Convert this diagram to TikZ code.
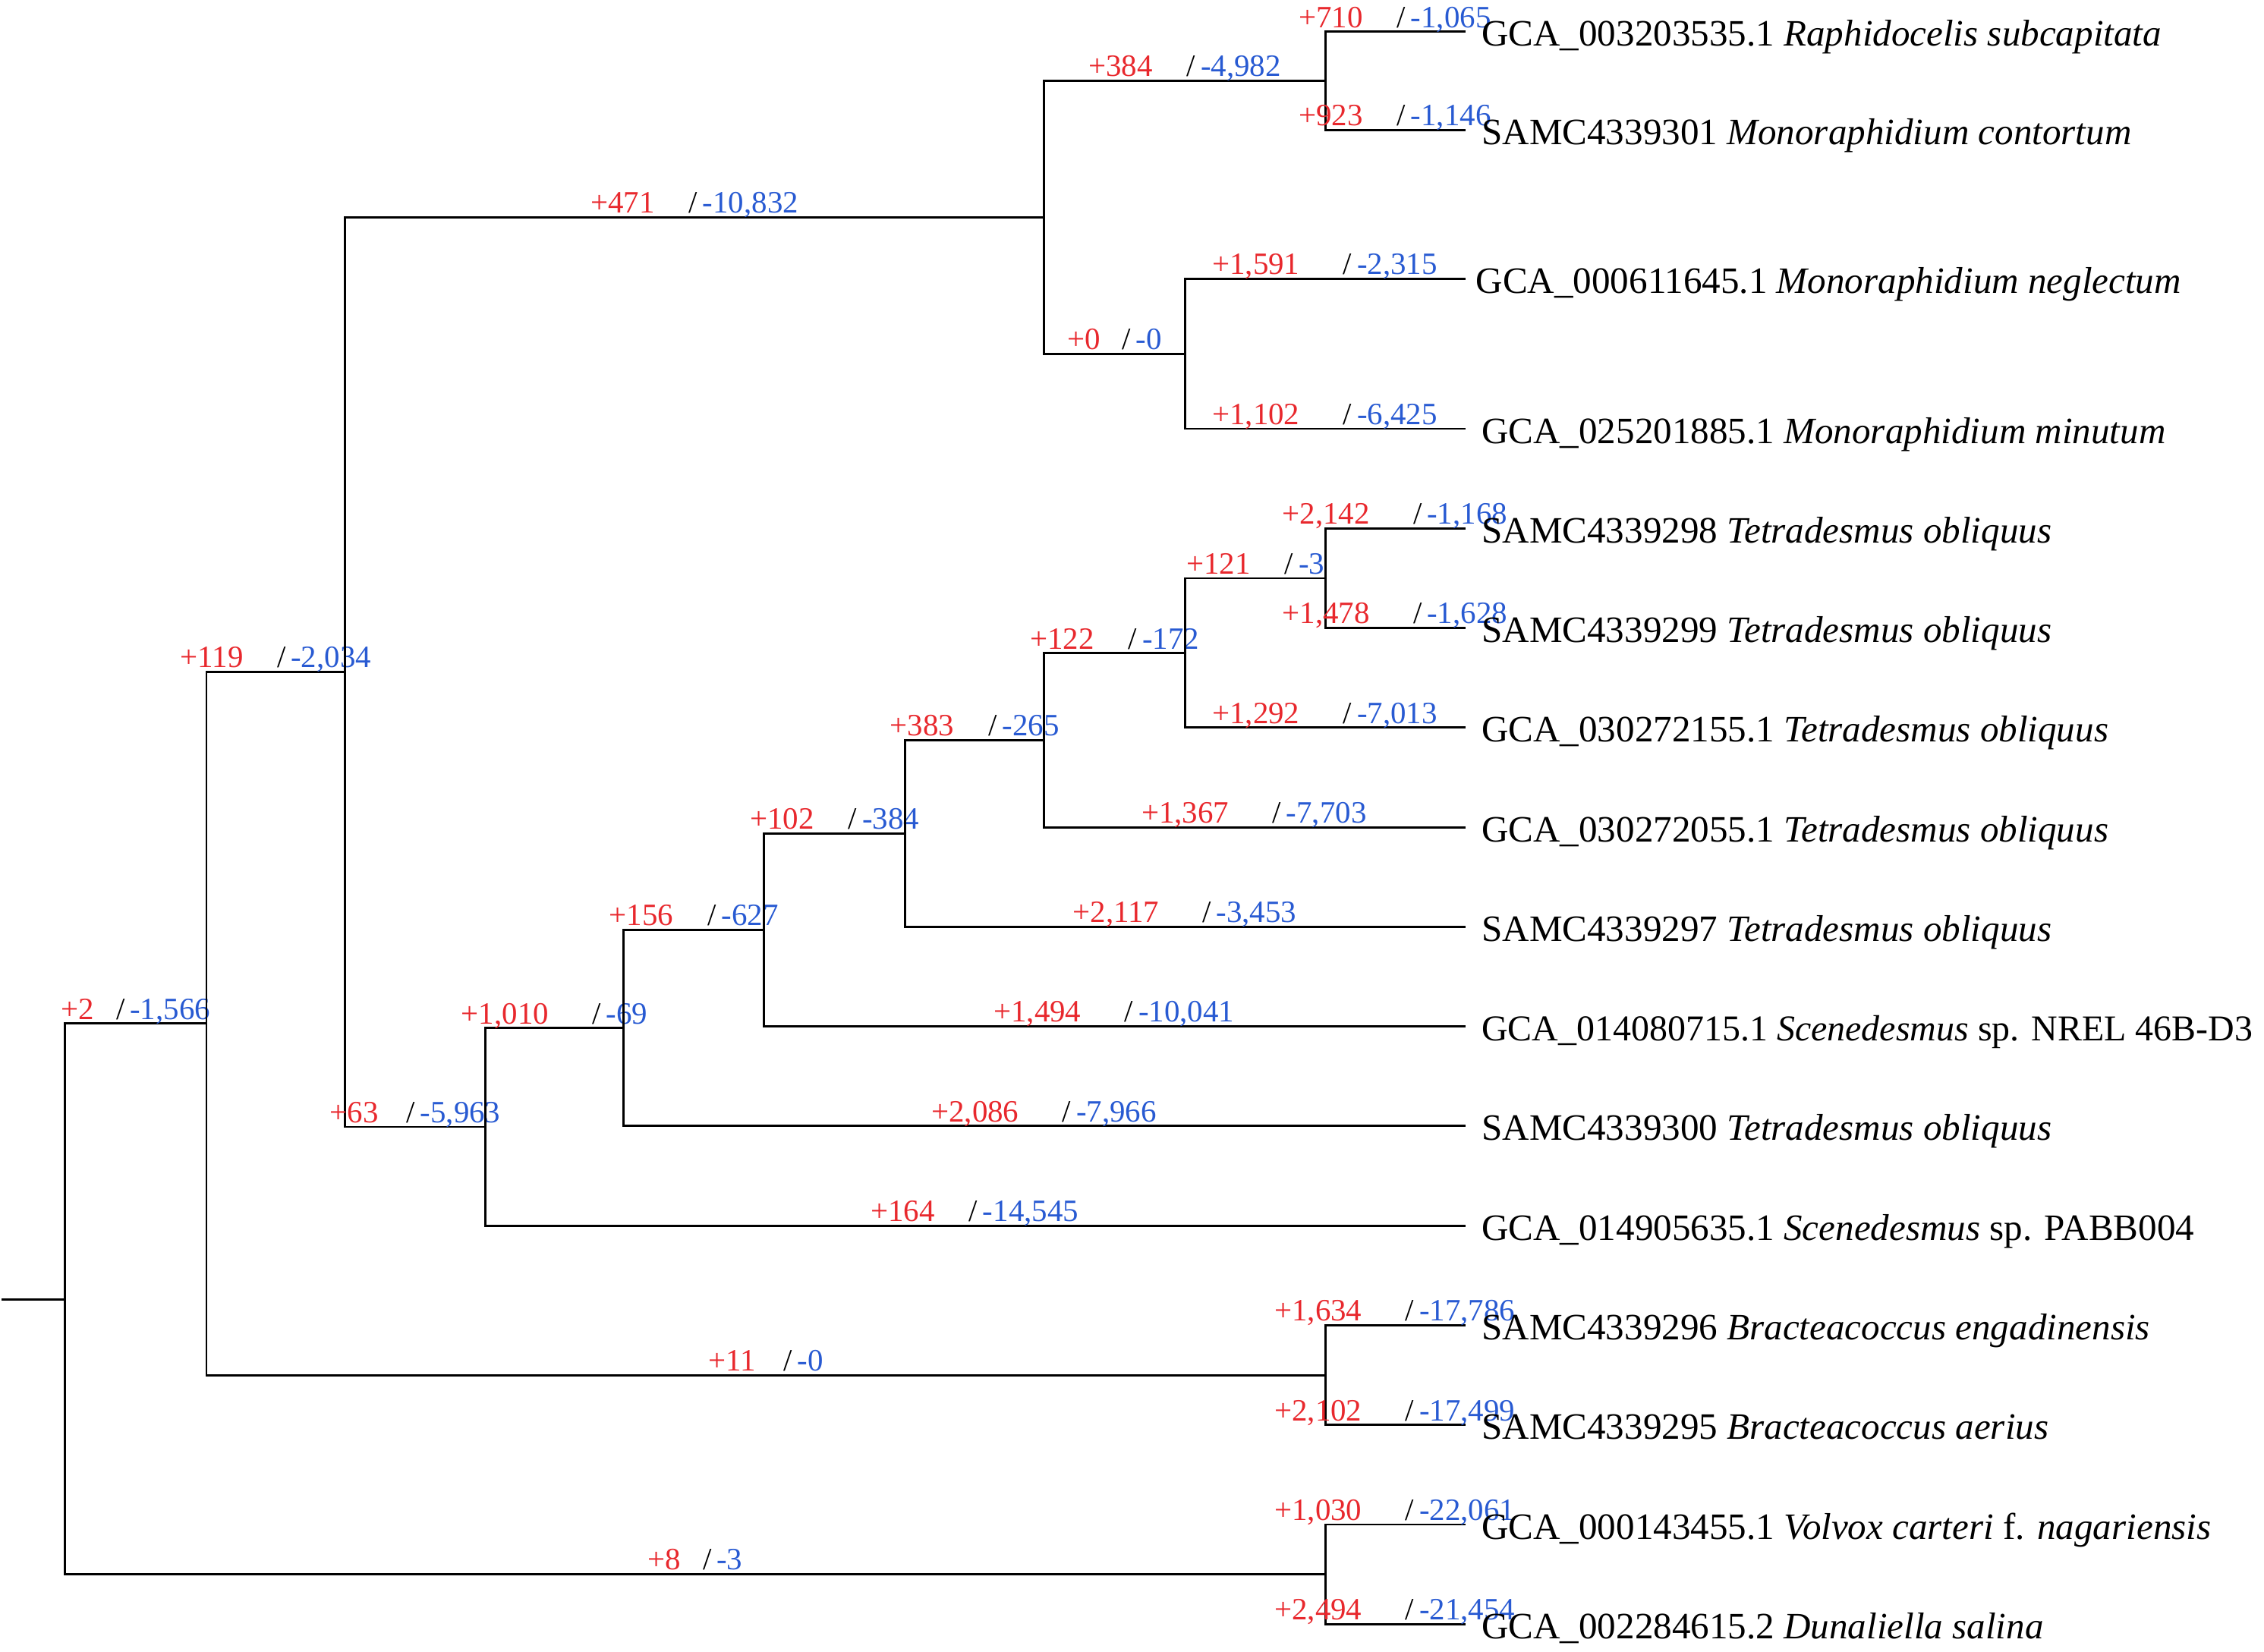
\documentclass[tikz,border=0pt]{standalone}
\usepackage{fontspec}
\setmainfont{Liberation Serif}
\usepackage{tikz}

\definecolor{gainred}{RGB}{232,40,45}
\definecolor{lossblue}{RGB}{40,90,210}

\newlength{\gainw}
\newcommand{\gl}[2]{\settowidth{\gainw}{#1}{\color{gainred}#1}\hspace{\dimexpr 4\gainw/10+6pt\relax}/\,{\color{lossblue}#2}}

\tikzset{
  branch/.style={line width=1.5pt, line cap=rect},
  glabel/.style={anchor=base, inner sep=0pt, yshift=3pt, font=\fontsize{21.5}{24}\selectfont},
  leafname/.style={anchor=base west, inner sep=0pt, xshift=12pt, yshift=-10pt, font=\fontsize{25.8}{30}\selectfont},
}

\begin{document}
\begin{tikzpicture}[x=1pt,y=-1pt]
    \useasboundingbox (0,0) rectangle (1568,1144);

    % internal nodes
    \coordinate (rs) at (2,900);
    \coordinate (root) at (45,900);
    \coordinate (c1) at (143,709);
    \coordinate (c2) at (239,465.5);
    \coordinate (mono) at (723,150.5);
    \coordinate (rm) at (918,56);
    \coordinate (mn) at (821,245);
    \coordinate (c3) at (336,780.6);
    \coordinate (c4) at (432,712.1);
    \coordinate (c5) at (529,644.2);
    \coordinate (c6) at (627,577.4);
    \coordinate (c7) at (723,512.8);
    \coordinate (c8) at (821,452.5);
    \coordinate (c9) at (918,400.5);
    \coordinate (brac) at (918,952.5);
    \coordinate (volv) at (918,1090.5);

    % leaves
    \coordinate (l1) at (1014,22);
    \coordinate (l2) at (1014,90);
    \coordinate (l3) at (1014,193);
    \coordinate (l4) at (1014,297);
    \coordinate (l5) at (1014,366);
    \coordinate (l6) at (1014,435);
    \coordinate (l7) at (1014,504);
    \coordinate (l8) at (1014,573);
    \coordinate (l9) at (1014,642);
    \coordinate (l10) at (1014,711);
    \coordinate (l11) at (1014,780);
    \coordinate (l12) at (1014,849);
    \coordinate (l13) at (1014,918);
    \coordinate (l14) at (1014,987);
    \coordinate (l15) at (1014,1056);
    \coordinate (l16) at (1014,1125);

    % branches
    \draw[branch] (rs) -- (root);
    \draw[branch] (root) |- (c1) node[glabel, pos=0.75] (g1) {\gl{+2}{-1,566}};
    \draw[branch] (root) |- (volv) node[glabel, pos=0.75] (g2) {\gl{+8}{-3}};
    \draw[branch] (c1) |- (c2) node[glabel, pos=0.75] (g3) {\gl{+119}{-2,034}};
    \draw[branch] (c1) |- (brac) node[glabel, pos=0.75] (g4) {\gl{+11}{-0}};
    \draw[branch] (c2) |- (mono) node[glabel, pos=0.75] (g5) {\gl{+471}{-10,832}};
    \draw[branch] (c2) |- (c3) node[glabel, pos=0.75] (g6) {\gl{+63}{-5,963}};
    \draw[branch] (mono) |- (rm) node[glabel, pos=0.75] (g7) {\gl{+384}{-4,982}};
    \draw[branch] (mono) |- (mn) node[glabel, pos=0.75] (g8) {\gl{+0}{-0}};
    \draw[branch] (rm) |- (l1) node[glabel, pos=0.75] (g9) {\gl{+710}{-1,065}};
    \draw[branch] (rm) |- (l2) node[glabel, pos=0.75] (g10) {\gl{+923}{-1,146}};
    \draw[branch] (mn) |- (l3) node[glabel, pos=0.75] (g11) {\gl{+1,591}{-2,315}};
    \draw[branch] (mn) |- (l4) node[glabel, pos=0.75] (g12) {\gl{+1,102}{-6,425}};
    \draw[branch] (c3) |- (c4) node[glabel, pos=0.75] (g13) {\gl{+1,010}{-69}};
    \draw[branch] (c3) |- (l12) node[glabel, pos=0.75] (g14) {\gl{+164}{-14,545}};
    \draw[branch] (c4) |- (c5) node[glabel, pos=0.75] (g15) {\gl{+156}{-627}};
    \draw[branch] (c4) |- (l11) node[glabel, pos=0.75] (g16) {\gl{+2,086}{-7,966}};
    \draw[branch] (c5) |- (c6) node[glabel, pos=0.75] (g17) {\gl{+102}{-384}};
    \draw[branch] (c5) |- (l10) node[glabel, pos=0.75] (g18) {\gl{+1,494}{-10,041}};
    \draw[branch] (c6) |- (c7) node[glabel, pos=0.75] (g19) {\gl{+383}{-265}};
    \draw[branch] (c6) |- (l9) node[glabel, pos=0.75] (g20) {\gl{+2,117}{-3,453}};
    \draw[branch] (c7) |- (c8) node[glabel, pos=0.75] (g21) {\gl{+122}{-172}};
    \draw[branch] (c7) |- (l8) node[glabel, pos=0.75] (g22) {\gl{+1,367}{-7,703}};
    \draw[branch] (c8) |- (c9) node[glabel, pos=0.75] (g23) {\gl{+121}{-3}};
    \draw[branch] (c8) |- (l7) node[glabel, pos=0.75] (g24) {\gl{+1,292}{-7,013}};
    \draw[branch] (c9) |- (l5) node[glabel, pos=0.75] (g25) {\gl{+2,142}{-1,168}};
    \draw[branch] (c9) |- (l6) node[glabel, pos=0.75] (g26) {\gl{+1,478}{-1,628}};
    \draw[branch] (brac) |- (l13) node[glabel, pos=0.75] (g27) {\gl{+1,634}{-17,786}};
    \draw[branch] (brac) |- (l14) node[glabel, pos=0.75] (g28) {\gl{+2,102}{-17,499}};
    \draw[branch] (volv) |- (l15) node[glabel, pos=0.75] (g29) {\gl{+1,030}{-22,061}};
    \draw[branch] (volv) |- (l16) node[glabel, pos=0.75] (g30) {\gl{+2,494}{-21,454}};

    % leaf names
    \node[leafname] (n1) at (l1) {GCA\_003203535.1 \textit{Raphidocelis subcapitata}};
    \node[leafname] (n2) at (l2) {SAMC4339301 \textit{Monoraphidium contortum}};
    \node[leafname, xshift=-4pt] (n3) at (l3) {GCA\_000611645.1 \textit{Monoraphidium neglectum}};
    \node[leafname] (n4) at (l4) {GCA\_025201885.1 \textit{Monoraphidium minutum}};
    \node[leafname] (n5) at (l5) {SAMC4339298 \textit{Tetradesmus obliquus}};
    \node[leafname] (n6) at (l6) {SAMC4339299 \textit{Tetradesmus obliquus}};
    \node[leafname] (n7) at (l7) {GCA\_030272155.1 \textit{Tetradesmus obliquus}};
    \node[leafname] (n8) at (l8) {GCA\_030272055.1 \textit{Tetradesmus obliquus}};
    \node[leafname] (n9) at (l9) {SAMC4339297 \textit{Tetradesmus obliquus}};
    \node[leafname, font=\fontsize{25.2}{30}\selectfont] (n10) at (l10) {GCA\_014080715.1 \textit{Scenedesmus} sp. NREL 46B-D3};
    \node[leafname] (n11) at (l11) {SAMC4339300 \textit{Tetradesmus obliquus}};
    \node[leafname] (n12) at (l12) {GCA\_014905635.1 \textit{Scenedesmus} sp. PABB004};
    \node[leafname] (n13) at (l13) {SAMC4339296 \textit{Bracteacoccus engadinensis}};
    \node[leafname] (n14) at (l14) {SAMC4339295 \textit{Bracteacoccus aerius}};
    \node[leafname] (n15) at (l15) {GCA\_000143455.1 \textit{Volvox carteri} f. \textit{nagariensis}};
    \node[leafname] (n16) at (l16) {GCA\_002284615.2 \textit{Dunaliella salina}};
\end{tikzpicture}
\end{document}
